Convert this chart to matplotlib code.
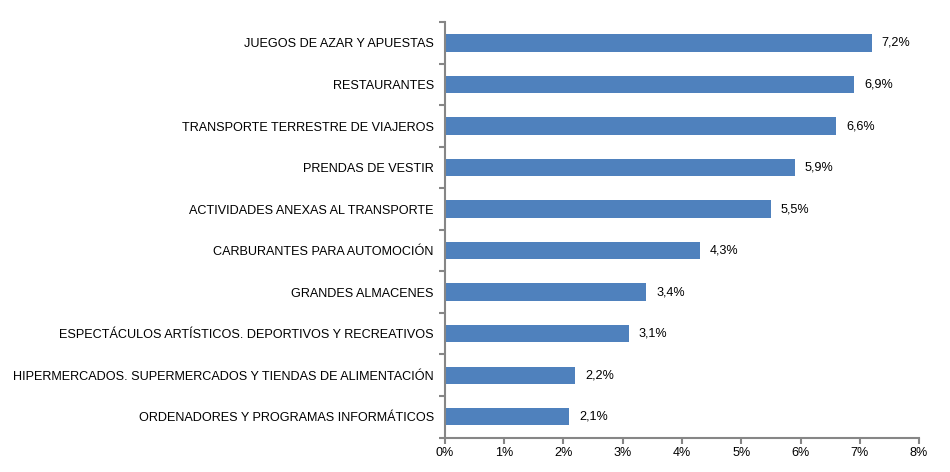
import matplotlib.pyplot as plt
from matplotlib.ticker import FuncFormatter

categorias = [
    'JUEGOS DE AZAR Y APUESTAS',
    'RESTAURANTES',
    'TRANSPORTE TERRESTRE DE VIAJEROS',
    'PRENDAS DE VESTIR',
    'ACTIVIDADES ANEXAS AL TRANSPORTE',
    'CARBURANTES PARA AUTOMOCIÓN',
    'GRANDES ALMACENES',
    'ESPECTÁCULOS ARTÍSTICOS. DEPORTIVOS Y RECREATIVOS',
    'HIPERMERCADOS. SUPERMERCADOS Y TIENDAS DE ALIMENTACIÓN',
    'ORDENADORES Y PROGRAMAS INFORMÁTICOS',
]
valores = [7.2, 6.9, 6.6, 5.9, 5.5, 4.3, 3.4, 3.1, 2.2, 2.1]

plt.rcParams['font.family'] = ['Liberation Sans', 'DejaVu Sans']
plt.rcParams['font.size'] = 9.1

fig = plt.figure(figsize=(9.5, 4.72), dpi=100)
ax = fig.add_axes([0.4684, 0.073, 0.4990, 0.880])

pos = list(range(len(categorias)))[::-1]
ax.barh(pos, valores, height=0.42, color='#4F81BD')

for p, v in zip(pos, valores):
    ax.text(v + 0.17, p, f'{v:.1f}%'.replace('.', ','), va='center', ha='left',
            color='#000000')

ax.set_xlim(0, 8)
ax.set_ylim(-0.5, len(categorias) - 0.5)
ax.set_xticks(range(0, 9))
ax.xaxis.set_major_formatter(FuncFormatter(lambda x, _: f'{int(x)}%'))

ax.set_yticks(pos)
ax.set_yticklabels(categorias)
ax.set_yticks([i - 0.5 for i in range(len(categorias) + 1)], minor=True)
ax.tick_params(axis='y', which='major', length=0, pad=8)
ax.tick_params(axis='y', which='minor', length=4, color='#868686', width=1.5)
ax.tick_params(axis='x', length=4, color='#868686', width=1.5, pad=3)

for s in ['top', 'right']:
    ax.spines[s].set_visible(False)
for s in ['left', 'bottom']:
    ax.spines[s].set_color('#868686')
    ax.spines[s].set_linewidth(1.5)

fig.savefig('out.png', dpi=100)
